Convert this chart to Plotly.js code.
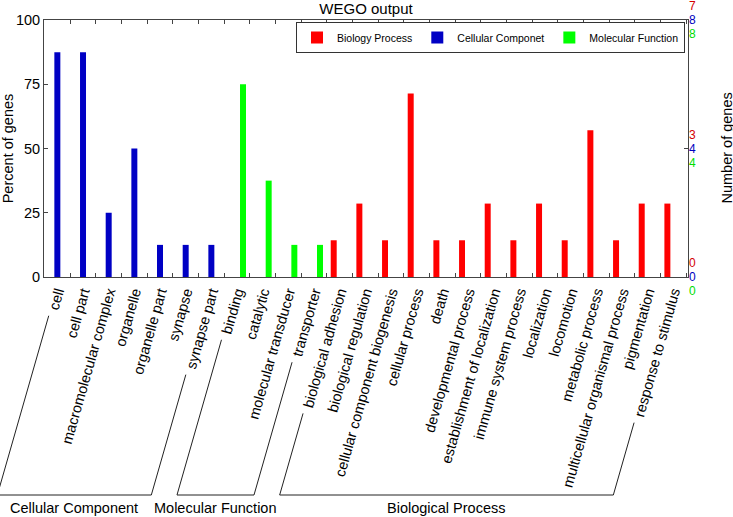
<!DOCTYPE html>
<html>
<head>
<meta charset="utf-8">
<script src="https://cdn.plot.ly/plotly-3.0.1.min.js"></script>
<style>
html,body{margin:0;padding:0;background:#fff;}
#chart{width:733px;height:517px;}
</style>
</head>
<body>
<div id="chart"></div>
<script>
// ---- data ----
const ccCategories = ['cell', 'cell part', 'macromolecular complex', 'organelle', 'organelle part', 'synapse', 'synapse part'];
const ccValues = [87.5, 87.5, 25, 50, 12.5, 12.5, 12.5];

const mfCategories = ['binding', 'catalytic', 'molecular transducer', 'transporter'];
const mfValues = [75, 37.5, 12.5, 12.5];

const bpCategories = ['biological adhesion', 'biological regulation', 'cellular component biogenesis', 'cellular process',
  'death', 'developmental process', 'establishment of localization', 'immune system process', 'localization',
  'locomotion', 'metabolic process', 'multicellular organismal process', 'pigmentation', 'response to stimulus'];
const bpValues = [14.29, 28.57, 14.29, 71.43, 14.29, 14.29, 28.57, 14.29, 28.57, 14.29, 57.14, 14.29, 28.57, 28.57];

const seriesNames = ['Biology Process', 'Cellular Componet', 'Molecular Function'];
const groupNames = ['Cellular Component', 'Molecular Function', 'Biological Process'];

const yTickVals = [0, 25, 50, 75, 100];
// right-hand "Number of genes" labels (Biology, Cellular, Molecular) at 100%, 50%, 0%
const rightLabelLevels = [100, 50, 0];
const rightLabelsTop = ['7', '8', '8'];
const rightLabelsMid = ['3', '4', '4'];
const rightLabelsZero = ['0', '0', '0'];

// ---- styles ----
const FONT = 'Liberation Sans, Arial, Helvetica, sans-serif';
const barColors = ['#ff0000', '#0000c4', '#00ff00'];
const labelColors = ['#d40000', '#0000c0', '#00dd00'];
const axisColor = '#444';
const TICK_ANGLE = 74;

const allCategories = ccCategories.concat(mfCategories, bpCategories);

// align each series onto the full category list (0 where the series has no bar),
// so that the grouped layout keeps one slot per series like the original
function onAll(cats, vals) {
  return allCategories.map(c => {
    const i = cats.indexOf(c);
    return i >= 0 ? vals[i] : 0;
  });
}

const traces = [
  {type: 'bar', name: seriesNames[0], x: allCategories, y: onAll(bpCategories, bpValues), marker: {color: barColors[0], line: {width: 0}}},
  {type: 'bar', name: seriesNames[1], x: allCategories, y: onAll(ccCategories, ccValues), marker: {color: barColors[1], line: {width: 0}}},
  {type: 'bar', name: seriesNames[2], x: allCategories, y: onAll(mfCategories, mfValues), marker: {color: barColors[2], line: {width: 0}}}
];

const annotations = [];
const rightSets = [rightLabelsTop, rightLabelsMid, rightLabelsZero];
rightSets.forEach((set, li) => {
  set.forEach((txt, si) => {
    annotations.push({
      xref: 'paper', yref: 'y', x: 1, y: rightLabelLevels[li],
      xanchor: 'left', yanchor: 'middle', xshift: 0, yshift: (1 - si) * 14,
      text: txt, showarrow: false, borderpad: 0,
      font: {family: FONT, size: 12, color: labelColors[si]}
    });
  });
});
annotations.push({
  xref: 'paper', yref: 'paper', x: 1, y: 0.5, xanchor: 'center', yanchor: 'middle', xshift: 38,
  text: 'Number of genes', textangle: -90, showarrow: false,
  font: {family: FONT, size: 14.5, color: '#000'}
});

const layout = {
  width: 733, height: 517,
  margin: {l: 44, r: 45, t: 20, b: 240},
  paper_bgcolor: '#fff', plot_bgcolor: '#fff',
  font: {family: FONT, size: 14.5, color: '#000'},
  title: {text: 'WEGO output', x: 0.5, xref: 'paper', xanchor: 'center', y: 1 - 9 / 517, yref: 'container', yanchor: 'middle',
          font: {family: FONT, size: 15, color: '#000'}},
  barmode: 'group', bargap: 0.3, bargroupgap: 0,
  showlegend: true,
  legend: {orientation: 'h', x: (685 - 44) / 644, xanchor: 'right', y: (277 - 22) / 257, yanchor: 'top',
           bgcolor: '#fff', bordercolor: '#333', borderwidth: 1, itemwidth: 30,
           font: {family: FONT, size: 10.5, color: '#000'}, traceorder: 'normal'},
  xaxis: {type: 'category', categoryorder: 'array', categoryarray: allCategories,
          range: [-0.52, 24.57], tickson: 'boundaries', ticks: 'inside', ticklen: 4, tickcolor: axisColor,
          showline: true, linecolor: axisColor, linewidth: 1, mirror: 'ticks',
          tickangle: -TICK_ANGLE, tickfont: {family: FONT, size: 14.5, color: '#000'},
          showgrid: false, zeroline: false, automargin: false, fixedrange: true},
  yaxis: {range: [0, 100], tickvals: yTickVals, ticks: 'inside', ticklen: 4, tickcolor: axisColor,
          showline: true, linecolor: axisColor, linewidth: 1, mirror: true,
          tickfont: {family: FONT, size: 14.5, color: '#000'},
          title: {text: 'Percent of genes', font: {family: FONT, size: 14.5, color: '#000'}},
          showgrid: false, zeroline: false, automargin: false, fixedrange: true},
  yaxis2: {overlaying: 'y', side: 'right', range: [0, 100], tickvals: [50], ticks: 'inside', ticklen: 4,
           tickcolor: axisColor, showticklabels: false, showline: true, linecolor: axisColor,
           showgrid: false, zeroline: false, fixedrange: true},
  annotations: annotations
};

// empty trace on y2 so the right-hand axis (with its middle tick) is drawn
traces.push({type: 'scatter', x: [], y: [], yaxis: 'y2', showlegend: false, hoverinfo: 'skip'});

const gd = document.getElementById('chart');
Plotly.newPlot(gd, traces, layout, {displayModeBar: false, staticPlot: true}).then(() => {
  const fl = gd._fullLayout;
  const sz = fl._size;
  const gdRect = gd.getBoundingClientRect();
  const rad = TICK_ANGLE * Math.PI / 180;
  const dirX = -Math.cos(rad), dirY = Math.sin(rad);
  const bottomY = 495; // px from top, bracket baseline
  const labelY = 508;
  const toPX = px => (px - sz.l) / sz.w;
  const toPY = py => 1 - (py - sz.t) / sz.h;

  const rects = {};
  gd.querySelectorAll('.xtick text').forEach(el => {
    const r = el.getBoundingClientRect();
    rects[el.textContent] = {left: r.left - gdRect.left, bottom: r.bottom - gdRect.top, right: r.right - gdRect.left};
  });

  function startPoint(cat) {
    const r = rects[cat];
    if (!r) return null;
    const x0 = r.left + 4 + dirX * 4;
    const y0 = r.bottom + dirY * 4;
    return [x0, y0];
  }
  function bottomPoint(p) {
    const t = (bottomY - p[1]) / dirY;
    return [p[0] + dirX * t, bottomY];
  }

  const groups = [ccCategories, mfCategories, bpCategories];
  const shapes = [];
  const extraAnn = [];
  const lineStyle = {color: '#222', width: 1};
  groups.forEach((cats, gi) => {
    const a = startPoint(cats[0]);
    const b = startPoint(cats[cats.length - 1]);
    if (!a || !b) return;
    const a2 = bottomPoint(a), b2 = bottomPoint(b);
    shapes.push({type: 'path', xref: 'paper', yref: 'paper',
      path: 'M' + toPX(a[0]) + ',' + toPY(a[1]) + ' L' + toPX(a2[0]) + ',' + toPY(a2[1]) +
            ' L' + toPX(b2[0]) + ',' + toPY(b2[1]) + ' L' + toPX(b[0]) + ',' + toPY(b[1]),
      line: lineStyle});
    extraAnn.push({xref: 'paper', yref: 'paper', x: toPX((a2[0] + b2[0]) / 2), y: toPY(labelY),
      xanchor: 'center', yanchor: 'middle', text: groupNames[gi], showarrow: false,
      font: {family: FONT, size: 14.5, color: '#000'}});
  });
  return Plotly.relayout(gd, {shapes: shapes, annotations: annotations.concat(extraAnn)});
});
</script>
</body>
</html>
